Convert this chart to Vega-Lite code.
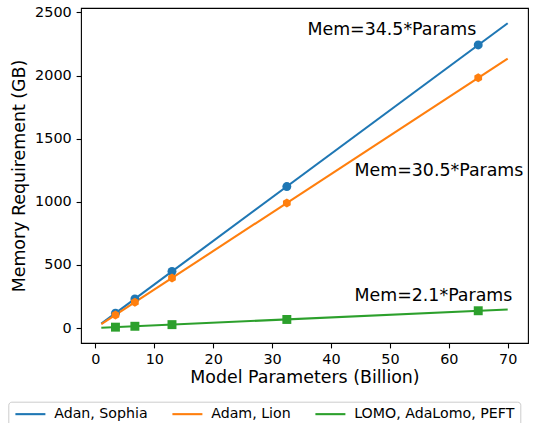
{
  "$schema": "https://vega.github.io/schema/vega-lite/v6.json",
  "width": 447,
  "height": 335,
  "autosize": {"type": "none"},
  "padding": {"left": 81, "top": 8, "right": 5, "bottom": 80},
  "background": "white",
  "config": {
    "font": "DejaVu Sans",
    "view": {"stroke": "black", "strokeWidth": 1.1},
    "axis": {
      "grid": false,
      "domain": false,
      "tickColor": "black",
      "tickSize": 4.9,
      "tickWidth": 1.1,
      "labelFont": "DejaVu Sans",
      "labelFontSize": 14.4,
      "labelColor": "black",
      "labelPadding": 4.9,
      "titleFont": "DejaVu Sans",
      "titleFontSize": 17.4,
      "titleFontWeight": "normal",
      "titleColor": "black"
    }
  },
  "datasets": {
    "lines": [
      {"series": "Adan, Sophia", "params": 1, "mem": 34.5},
      {"series": "Adan, Sophia", "params": 70, "mem": 2415},
      {"series": "Adam, Lion", "params": 1, "mem": 30.5},
      {"series": "Adam, Lion", "params": 70, "mem": 2135},
      {"series": "LOMO, AdaLomo, PEFT", "params": 1, "mem": 2.1},
      {"series": "LOMO, AdaLomo, PEFT", "params": 70, "mem": 147}
    ],
    "points": [
      {"series": "Adan, Sophia", "params": 3.4, "mem": 117},
      {"series": "Adan, Sophia", "params": 6.7, "mem": 231},
      {"series": "Adan, Sophia", "params": 13, "mem": 449},
      {"series": "Adan, Sophia", "params": 32.5, "mem": 1121},
      {"series": "Adan, Sophia", "params": 65, "mem": 2243},
      {"series": "Adam, Lion", "params": 3.4, "mem": 104},
      {"series": "Adam, Lion", "params": 6.7, "mem": 204},
      {"series": "Adam, Lion", "params": 13, "mem": 397},
      {"series": "Adam, Lion", "params": 32.5, "mem": 991},
      {"series": "Adam, Lion", "params": 65, "mem": 1983},
      {"series": "LOMO, AdaLomo, PEFT", "params": 3.4, "mem": 7},
      {"series": "LOMO, AdaLomo, PEFT", "params": 6.7, "mem": 14},
      {"series": "LOMO, AdaLomo, PEFT", "params": 13, "mem": 27},
      {"series": "LOMO, AdaLomo, PEFT", "params": 32.5, "mem": 68},
      {"series": "LOMO, AdaLomo, PEFT", "params": 65, "mem": 137}
    ],
    "labels": [
      {"text": "Mem=34.5*Params", "params": 36, "mem": 2325},
      {"text": "Mem=30.5*Params", "params": 44, "mem": 1206},
      {"text": "Mem=2.1*Params", "params": 44, "mem": 212}
    ]
  },
  "layer": [
    {
      "data": {"name": "lines"},
      "mark": {"type": "line", "strokeWidth": 2.1},
      "encoding": {
        "x": {
          "field": "params", "type": "quantitative",
          "scale": {"domain": [-2.45, 73.45], "nice": false, "zero": false},
          "axis": {"values": [0, 10, 20, 30, 40, 50, 60, 70], "title": "Model Parameters (Billion)", "titlePadding": 2}
        },
        "y": {
          "field": "mem", "type": "quantitative",
          "scale": {"domain": [-118.5, 2535.6], "nice": false, "zero": false},
          "axis": {"values": [0, 500, 1000, 1500, 2000, 2500], "format": "d", "title": "Memory Requirement (GB)", "titlePadding": 6}
        },
        "color": {
          "field": "series", "type": "nominal",
          "scale": {"domain": ["Adan, Sophia", "Adam, Lion", "LOMO, AdaLomo, PEFT"], "range": ["#1f77b4", "#ff7f0e", "#2ca02c"]},
          "legend": {
            "title": null,
            "orient": "none",
            "legendX": -72.7,
            "legendY": 393.7,
            "direction": "horizontal",
            "columns": 3,
            "columnPadding": 19,
            "labelOffset": 16.7,
            "labelLimit": 400,
            "symbolType": "M-3,0L3,0",
            "symbolSize": 100,
            "symbolOffset": 10,
            "symbolStrokeWidth": 2.1,
            "labelFont": "DejaVu Sans",
            "labelFontSize": 14.2,
            "labelColor": "black",
            "padding": 5,
            "fillColor": "rgba(255,255,255,0.8)",
            "strokeColor": "#cccccc",
            "cornerRadius": 3
          }
        },
        "detail": {"field": "series"}
      }
    },
    {
      "data": {"name": "points"},
      "mark": {"type": "point", "filled": true, "opacity": 1, "strokeWidth": 0},
      "encoding": {
        "x": {"field": "params", "type": "quantitative"},
        "y": {"field": "mem", "type": "quantitative"},
        "fill": {
          "field": "series", "type": "nominal",
          "scale": {"domain": ["Adan, Sophia", "Adam, Lion", "LOMO, AdaLomo, PEFT"], "range": ["#1f77b4", "#ff7f0e", "#2ca02c"]},
          "legend": null
        },
        "shape": {
          "field": "series", "type": "nominal",
          "scale": {"domain": ["Adan, Sophia", "Adam, Lion", "LOMO, AdaLomo, PEFT"], "range": ["circle", "M0,-1L0.866,-0.5L0.866,0.5L0,1L-0.866,0.5L-0.866,-0.5Z", "square"]},
          "legend": null
        },
        "size": {"value": 80}
      }
    },
    {
      "data": {"name": "labels"},
      "mark": {"type": "text", "align": "left", "baseline": "alphabetic", "font": "DejaVu Sans", "fontSize": 17.4, "color": "black"},
      "encoding": {
        "x": {"field": "params", "type": "quantitative"},
        "y": {"field": "mem", "type": "quantitative"},
        "text": {"field": "text"}
      }
    }
  ],
  "resolve": {"scale": {"color": "independent"}}
}
